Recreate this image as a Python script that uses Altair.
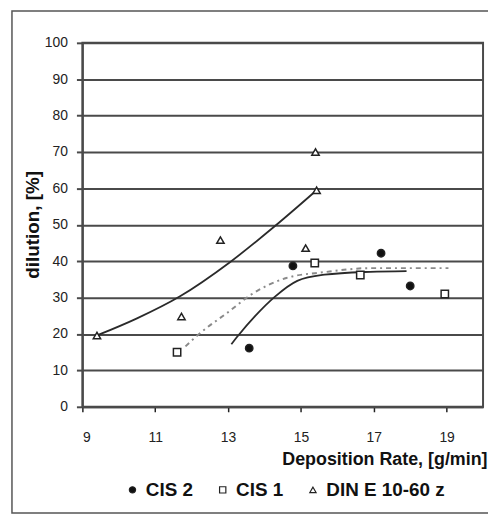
import altair as alt
import pandas as pd

# ---- data ----
series_order = ["CIS 2", "CIS 1", "DIN E 10-60 z"]

cis2_x = [13.58, 14.78, 17.2, 18.0]
cis2_y = [16.1, 38.7, 42.2, 33.2]
cis1_x = [11.6, 15.38, 16.63, 18.95]
cis1_y = [15.0, 39.5, 36.2, 31.0]
din_x = [9.4, 11.72, 12.79, 15.13, 15.40, 15.43]
din_y = [19.6, 24.8, 45.8, 43.6, 70.0, 59.5]

# trend curves
din_trend_x = [9.4, 10.5, 11.67, 13.06, 14.28, 15.43]
din_trend_y = [19.6, 24.3, 30.3, 39.8, 49.6, 59.5]
cis2_trend_x = [13.09, 13.28, 13.74, 14.28, 14.9, 15.65, 16.9, 17.9]
cis2_trend_y = [17.2, 19.6, 24.9, 30.2, 34.6, 36.3, 37.1, 37.3]
cis1_trend_x = [11.83, 12.19, 13.0, 13.63, 14.6, 15.65, 16.9, 19.05]
cis1_trend_y = [16.6, 19.9, 26.0, 30.8, 35.4, 37.0, 38.1, 38.1]

x_ticks = [9, 11, 13, 15, 17, 19]
y_ticks = [0, 10, 20, 30, 40, 50, 60, 70, 80, 90, 100]

# ---- tables ----
pts = pd.DataFrame(
    [{"x": a, "y": b, "series": "CIS 2"} for a, b in zip(cis2_x, cis2_y)]
    + [{"x": a, "y": b, "series": "CIS 1"} for a, b in zip(cis1_x, cis1_y)]
    + [{"x": a, "y": b, "series": "DIN E 10-60 z"} for a, b in zip(din_x, din_y)]
)

def trend(xs, ys, name):
    return pd.DataFrame({"x": xs, "y": ys, "i": list(range(len(xs))), "t": name})

tr_solid = pd.concat([trend(din_trend_x, din_trend_y, "din"),
                      trend(cis2_trend_x, cis2_trend_y, "cis2")])
tr_dash = trend(cis1_trend_x, cis1_trend_y, "cis1")

LABEL_FONT = "Liberation Sans Narrow, Arial Narrow, sans-serif"
TITLE_FONT = "Liberation Sans, Arial, sans-serif"
GRID = "#4a4a4a"

xs = alt.Scale(domain=[9, 20], nice=False, zero=False)
ys = alt.Scale(domain=[0, 100], nice=False)

x_axis = alt.Axis(values=x_ticks, grid=False, tickSize=5, tickColor="#222", tickWidth=1.5,
                  labelPadding=19, labelFont=LABEL_FONT, labelFontSize=14, labelColor="#222",
                  labelOverlap=False,
                  domainColor=GRID, domainWidth=2,
                  title="Deposition Rate, [g/min]", titleFont=TITLE_FONT, titleFontSize=18,
                  titleFontWeight="bold", titleColor="#111", titleX=408, titleY=53,
                  titleAlign="right", titleBaseline="middle")
y_axis = alt.Axis(values=y_ticks, grid=True, gridColor=GRID, gridWidth=2, gridOpacity=1,
                  tickSize=6, tickColor=GRID, tickWidth=2, labelOverlap=False,
                  labelPadding=9, labelFont=LABEL_FONT, labelFontSize=14, labelColor="#222",
                  domainColor=GRID, domainWidth=2,
                  title="dilution, [%]", titleFont=TITLE_FONT, titleFontSize=19,
                  titleFontWeight="bold", titleColor="#111", titleX=-50, titleY=183,
                  titleAngle=-90, titleAlign="center", titleBaseline="middle")

frame = alt.Chart(pd.DataFrame({"a": [0]})).mark_rect(
    fillOpacity=0, stroke="#555", strokeWidth=1.5
).encode(x=alt.value(-71), x2=alt.value(440), y=alt.value(-32), y2=alt.value(474))

solid = alt.Chart(tr_solid).mark_line(color="#2a2a2a", strokeWidth=1.8, interpolate="monotone").encode(
    x=alt.X("x:Q", scale=xs, axis=x_axis),
    y=alt.Y("y:Q", scale=ys, axis=y_axis),
    detail="t:N",
    order="i:Q",
)

dash = alt.Chart(tr_dash).mark_line(color="#8a8a8a", strokeWidth=2, strokeDash=[5, 4, 2, 4],
                                     interpolate="monotone").encode(
    x=alt.X("x:Q", scale=xs, axis=x_axis),
    y=alt.Y("y:Q", scale=ys, axis=y_axis),
    order="i:Q",
)

points = alt.Chart(pts).mark_point(strokeWidth=1.5, opacity=1, size=55).encode(
    x=alt.X("x:Q", scale=xs, axis=x_axis),
    y=alt.Y("y:Q", scale=ys, axis=y_axis),
    shape=alt.Shape("series:N", scale=alt.Scale(domain=series_order,
                                                range=["circle", "square", "triangle-up"]),
                    legend=alt.Legend(title=None)),
    fill=alt.Fill("series:N", scale=alt.Scale(domain=series_order,
                                              range=["#111111", "#ffffff", "#ffffff"]),
                  legend=alt.Legend(title=None)),
    stroke=alt.Stroke("series:N", scale=alt.Scale(domain=series_order,
                                                  range=["#222222", "#222222", "#222222"]),
                      legend=alt.Legend(title=None)),
)

chart = alt.layer(frame, solid, dash, points).properties(
    width=404, height=367,
    autosize="none",
    padding={"left": 75, "top": 33, "right": 5, "bottom": 110},
).configure_view(
    stroke=GRID, strokeWidth=2
).configure_legend(
    orient="none", direction="horizontal", legendX=41, legendY=441,
    labelFont=TITLE_FONT, labelFontSize=19, labelFontWeight="bold", labelColor="#111",
    symbolSize=40, symbolStrokeWidth=1.2,
    columnPadding=20, labelOffset=4, symbolOffset=0, padding=0
)

chart.save("out.html", embed_options={"renderer": "svg", "actions": False})
